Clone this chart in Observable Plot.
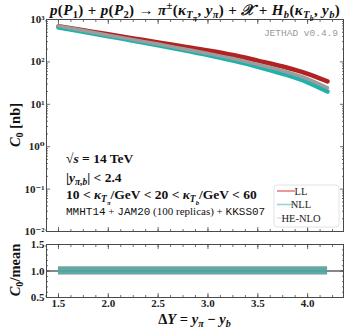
<!DOCTYPE html>
<html><head><meta charset="utf-8">
<script src="https://cdn.jsdelivr.net/npm/d3@7"></script>
<script src="https://cdn.jsdelivr.net/npm/@observablehq/plot@0.6"></script>
<style>
body{margin:0;background:#fff;}
#wrap{position:relative;width:349px;height:328px;overflow:hidden;}
#wrap svg{position:absolute;left:0;overflow:visible;}
</style></head><body><div id="wrap"></div>
<script>
// ---- data ----
const dY    = [1.5, 1.75, 2.0, 2.25, 2.5, 2.75, 3.0, 3.25, 3.5, 3.75, 4.0, 4.2];
const LL    = [692, 556, 447, 359, 288, 232, 186, 145, 107, 78, 52.5, 34.7];
const NLL   = [646, 513, 403, 316, 248, 191, 145, 107, 77, 52.5, 33, 20];
const HENLO = [708, 550, 427, 335, 263, 204, 158, 120, 87, 62, 40, 24.5];
// ratio-to-mean bands (lower panel)
const ratioX   = [1.5, 4.2];
const LLlo  = [0.92, 0.92],  LLhi  = [1.085, 1.085];
const HElo  = [0.93, 0.93],  HEhi  = [1.075, 1.075];
const NLLlo = [0.93, 0.93],  NLLhi = [1.07, 1.07];
// ticks
const xMajor = [1.5, 2.0, 2.5, 3.0, 3.5, 4.0];
const xMajorLabels = ["1.5", "2.0", "2.5", "3.0", "3.5", "4.0"];
const yMajor = [1e-2, 1e-1, 1, 10, 100, 1000];
const yMajorLabels = ["10⁻²", "10⁻¹", "10⁰", "10¹", "10²", "10³"];
const rMajor = [0.5, 1.0, 1.5];
const rMajorLabels = ["0.5", "1.0", "1.5"];
const seriesNames = ["LL", "NLL", "HE-NLO"];
const seriesColors = ["#b22222", "#20b2aa", "#9c9c9c"];
const legendColors = ["#e58080", "#8fdad4", "#e4e4e4"];

const xMinor = d3.range(1.375, 4.36, 0.125);
const yMinor = [];
for (let e = -2; e < 3; e++) for (let m = 2; m <= 9; m++) yMinor.push(m * Math.pow(10, e));
const rMinor = d3.range(0.5, 1.51, 0.1);

const mk = (vals) => dY.map((x, i) => ({x, c: vals[i]}));
const band = (lo, hi) => ratioX.map((x, i) => ({x, lo: lo[i], hi: hi[i]}));
const X_DOMAIN = [1.38, 4.36];
const W = 349;
const FRAME = "#4a4a4a";
const blank = () => "";
const SERIF = "'Liberation Serif', 'DejaVu Serif', serif";
const MONO = "'Liberation Mono', 'DejaVu Sans Mono', monospace";

function tickAxes(axis, vals, size, anchors) {
  return anchors.map(a => (axis === "y" ? Plot.axisY : Plot.axisX)(vals, {anchor: a, tickSize: -size, tickFormat: blank, label: null, stroke: FRAME, strokeWidth: 0.8}));
}

const main = Plot.plot({
  width: W, height: 233, marginLeft: 46, marginRight: 6, marginTop: 19, marginBottom: 2,
  x: {domain: X_DOMAIN, label: null},
  y: {type: "log", domain: [0.01, 1000], label: null},
  style: {fontFamily: SERIF, fontSize: "11px", fontWeight: "bold", color: "#222", background: "transparent", overflow: "visible"},
  marks: [
    ...tickAxes("y", yMinor, 2, ["left", "right"]),
    ...tickAxes("y", yMajor, 4, ["left", "right"]),
    ...tickAxes("x", xMinor, 2, ["bottom", "top"]),
    ...tickAxes("x", xMajor, 4, ["bottom", "top"]),
    Plot.axisY(yMajor, {anchor: "left", tickSize: 0, tickPadding: 2, tickFormat: d => yMajorLabels[yMajor.indexOf(d)], label: null}),
    Plot.frame({stroke: FRAME, strokeWidth: 1}),
    Plot.line(mk(LL), {x: "x", y: "c", stroke: seriesColors[0], strokeWidth: 4.5, curve: "monotone-x"}),
    Plot.line(mk(NLL), {x: "x", y: "c", stroke: seriesColors[1], strokeWidth: 4.5, curve: "monotone-x"}),
    Plot.line(mk(HENLO), {x: "x", y: "c", stroke: seriesColors[2], strokeWidth: 3.5, curve: "monotone-x"})
  ]
});

const lower = Plot.plot({
  width: W, height: 95, marginLeft: 46, marginRight: 6, marginTop: 11, marginBottom: 31,
  x: {domain: X_DOMAIN, label: null},
  y: {domain: [0.5, 1.5], label: null},
  style: {fontFamily: SERIF, fontSize: "11px", fontWeight: "bold", color: "#222", background: "transparent", overflow: "visible"},
  marks: [
    Plot.ruleY([1], {stroke: "#111", strokeWidth: 1}),
    Plot.areaY(band(LLlo, LLhi), {x: "x", y1: "lo", y2: "hi", fill: "#e79a9a", fillOpacity: 0.6}),
    Plot.areaY(band(HElo, HEhi), {x: "x", y1: "lo", y2: "hi", fill: "#8a8a8a", fillOpacity: 0.6}),
    Plot.areaY(band(NLLlo, NLLhi), {x: "x", y1: "lo", y2: "hi", fill: "#20b2aa", fillOpacity: 0.6}),
    ...tickAxes("y", rMinor, 2, ["left", "right"]),
    ...tickAxes("y", rMajor, 4, ["left", "right"]),
    ...tickAxes("x", xMinor, 2, ["bottom", "top"]),
    ...tickAxes("x", xMajor, 4, ["bottom", "top"]),
    Plot.axisY(rMajor, {anchor: "left", tickSize: 0, tickPadding: 2, tickFormat: d => rMajorLabels[rMajor.indexOf(d)], label: null}),
    Plot.axisX(xMajor, {anchor: "bottom", tickSize: 0, tickPadding: 2, tickFormat: d => xMajorLabels[xMajor.indexOf(d)], label: null}),
    Plot.frame({stroke: FRAME, strokeWidth: 1})
  ]
});

const wrap = document.getElementById("wrap");
main.style.top = "0px";
lower.style.top = "233px";
wrap.appendChild(main);
wrap.appendChild(lower);

// ---- rich text helper ----
function rich(svg, x, y, parts, opt = {}) {
  const base = opt.size || 13;
  const t = d3.select(svg).append("text")
    .attr("x", x).attr("y", y)
    .attr("font-family", opt.family || SERIF)
    .attr("font-size", base)
    .attr("font-weight", opt.weight || "bold")
    .attr("fill", opt.fill || "#111")
    .attr("text-anchor", opt.anchor || "start");
  if (opt.spacing) t.attr("letter-spacing", opt.spacing);
  if (opt.rotate) t.attr("transform", `rotate(-90 ${x} ${y})`);
  let cur = 0;
  const shifts = {0: 0, 1: 0.22, 2: 0.42, "-1": -0.4};
  const sizes = {0: 1, 1: 0.7, 2: 0.5, "-1": 0.7};
  for (const p of parts) {
    const [txt, o] = Array.isArray(p) ? p : [p, {}];
    const lvl = o.sub ? o.sub : o.sup ? -1 : 0;
    const s = shifts[lvl] * base;
    const ts = t.append("tspan").attr("dy", s - cur).attr("font-size", sizes[lvl] * base).text(txt);
    cur = s;
    if (o.i) ts.attr("font-style", "italic");
    if (o.mono) ts.attr("font-family", MONO).attr("font-weight", "normal");
    if (o.w) ts.attr("font-weight", o.w);
  }
  return t;
}
const I = (t, o = {}) => [t, {i: true, ...o}];

// title
rich(main, 195, 15, [
  I("p"), "(", I("P"), ["1", {sub: 1}], ") + ", I("p"), "(", I("P"), ["2", {sub: 1}], ") → ",
  I("π"), ["±", {sup: 1}], "(", I("κ"), I("T", {sub: 1}), I("π", {sub: 2}), ", ", I("y"), I("π", {sub: 1}),
  ") + ", I("𝒳"), " + ", I("H"), I("b", {sub: 1}), "(", I("κ"), I("T", {sub: 1}), I("b", {sub: 2}), ", ", I("y"), I("b", {sub: 1}), ")"
], {size: 15, anchor: "middle", spacing: 0.35});

// watermark
rich(main, 338, 36, ["JETHAD v0.4.9"], {family: MONO, size: 9.5, weight: "normal", fill: "#999", anchor: "end"});

// annotations
rich(main, 66, 163, ["√", I("s"), " = 14 TeV"], {size: 13.5});
rich(main, 66, 182, ["|", I("y"), I("π,b", {sub: 1}), "| < 2.4"], {size: 13.5});
rich(main, 66, 199, ["10 < ", I("κ"), I("T", {sub: 1}), I("π", {sub: 2}), "/GeV < 20 < ", I("κ"), I("T", {sub: 1}), I("b", {sub: 2}), "/GeV < 60"], {size: 13.5});
rich(main, 66, 215, [["MMHT14", {mono: 1}], " + ", ["JAM20", {mono: 1}], " (100 replicas) + ", ["KKSS07", {mono: 1}]], {size: 11, weight: "normal"});

// y labels
rich(main, 20, 125, [I("C"), ["0", {sub: 1}], " [nb]"], {size: 14.5, anchor: "middle", rotate: true});
rich(lower, 20, 37, [I("C"), ["0", {sub: 1}], "/mean"], {size: 14.5, anchor: "middle", rotate: true});
// x label
rich(lower, 194.5, 90.5, ["Δ", I("Y"), " = ", I("y"), I("π", {sub: 1}), " − ", I("y"), I("b", {sub: 1})], {size: 14.5, anchor: "middle"});

// legend
const lg = d3.select(main).append("g");
lg.append("rect").attr("x", 274).attr("y", 185).attr("width", 65).attr("height", 42).attr("rx", 3)
  .attr("fill", "#fff").attr("fill-opacity", 0.85).attr("stroke", "#dcdcdc").attr("stroke-width", 0.8);
seriesNames.forEach((n, i) => {
  const yy = 191 + i * 13.5;
  lg.append("line").attr("x1", 277).attr("x2", 295).attr("y1", yy).attr("y2", yy)
    .attr("stroke", legendColors[i]).attr("stroke-width", 1.6);
  lg.append("text").attr("x", 301).attr("y", yy + 3.5).attr("font-family", SERIF).attr("font-size", 10.5)
    .attr("font-weight", "normal").attr("fill", "#222").text(n);
});
</script></body></html>
